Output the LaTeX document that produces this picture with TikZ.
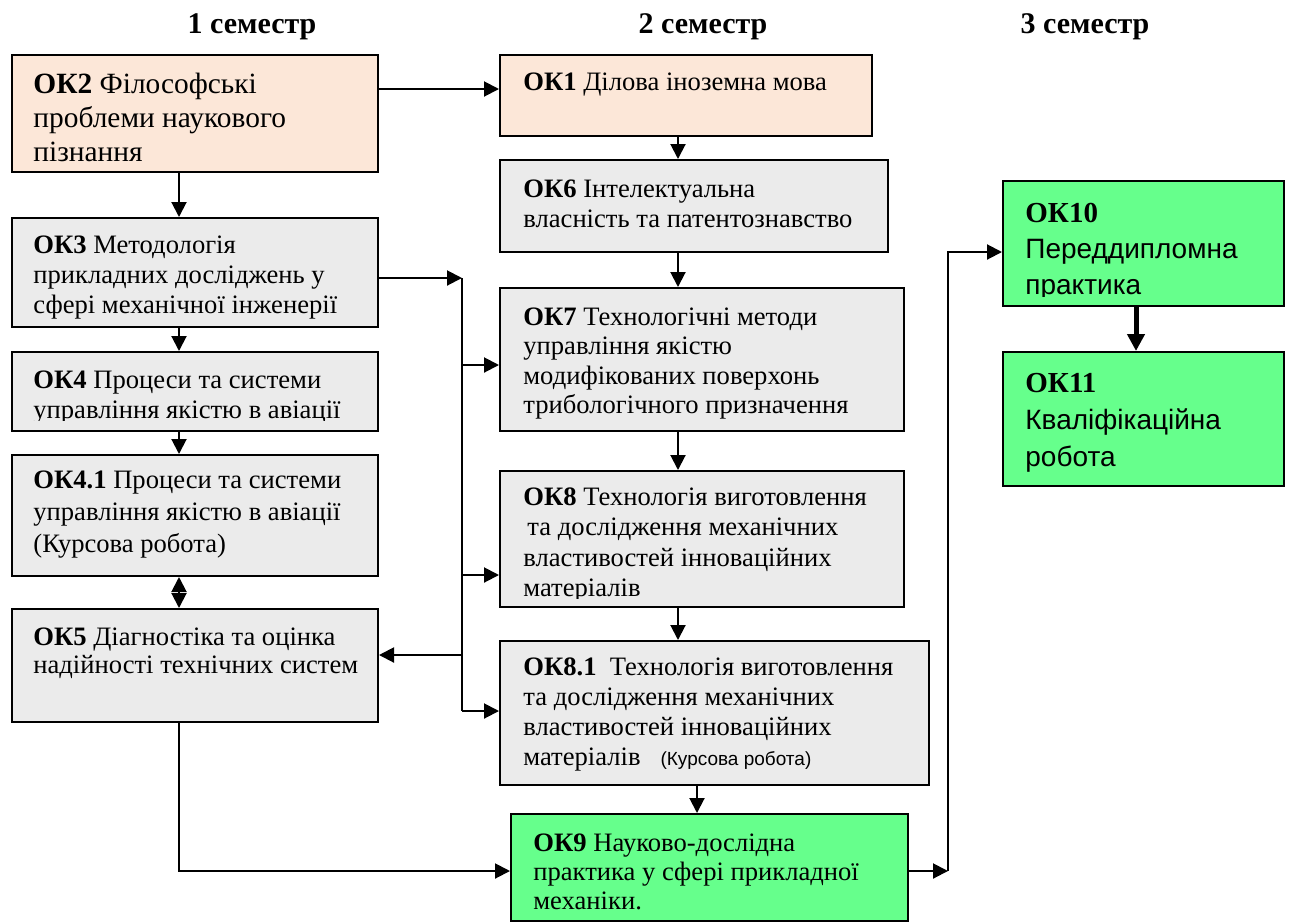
\documentclass[tikz,border=0pt]{standalone}
\usepackage{fontspec}
\setmainfont{Liberation Serif}
\newfontfamily\arialf{Liberation Sans}
\usetikzlibrary{arrows.meta}
\definecolor{peach}{RGB}{252,231,216}
\definecolor{lgray}{RGB}{235,235,235}
\definecolor{lgreen}{RGB}{102,255,140}
\begin{document}
\begin{tikzpicture}[x=0.5pt,y=-0.5pt,
  box/.style={draw=black, line width=1pt, inner sep=0pt, rectangle},
  tx/.style={anchor=north west, inner sep=0pt, align=left},
  hd/.style={anchor=base, font=\fontsize{15}{18}\selectfont\bfseries},
  arr/.style={line width=1pt, -{Triangle[length=7.5pt,width=7.5pt]}},
  darr/.style={line width=1pt, {Triangle[length=7.5pt,width=7.5pt]}-{Triangle[length=7.5pt,width=7.5pt]}},
  tarr/.style={line width=2.5pt, -{Triangle[length=8.5pt,width=8.5pt]}},
  ln/.style={line width=1pt}]
\useasboundingbox (0,0) rectangle (1290,922);

% headers
\node[hd] (h1) at (252,33) {1 семестр};
\node[hd] (h2) at (703,33) {2 семестр};
\node[hd] (h3) at (1085,33) {3 семестр};

% boxes
\node[box, fill=peach, minimum width=183pt, minimum height=58.5pt] (ok2) at (195,113.5) {};
\node[box, fill=peach, minimum width=186pt, minimum height=40.5pt] (ok1) at (686,95.5) {};
\node[box, fill=lgray, minimum width=194pt, minimum height=46pt] (ok6) at (694,206) {};
\node[box, fill=lgray, minimum width=202pt, minimum height=71.5pt] (ok7) at (702,359.5) {};
\node[box, fill=lgray, minimum width=202pt, minimum height=68pt] (ok8) at (702,539) {};
\node[box, fill=lgray, minimum width=214.5pt, minimum height=72pt] (ok81) at (714.5,713) {};
\node[box, fill=lgreen, minimum width=198.5pt, minimum height=53.5pt] (ok9) at (709.5,867.5) {};
\node[box, fill=lgray, minimum width=183pt, minimum height=54.5pt] (ok3) at (195,272.5) {};
\node[box, fill=lgray, minimum width=183pt, minimum height=39.5pt] (ok4) at (195,391.5) {};
\node[box, fill=lgray, minimum width=183pt, minimum height=60.5pt] (ok41) at (195,515.5) {};
\node[box, fill=lgray, minimum width=183pt, minimum height=56.5pt] (ok5) at (195,665.5) {};
\node[box, fill=lgreen, minimum width=140.5pt, minimum height=62.5pt] (ok10) at (1143.5,243.5) {};
\node[box, fill=lgreen, minimum width=140.5pt, minimum height=67pt] (ok11) at (1143.5,419) {};

% texts
\node[tx, font=\fontsize{14.7}{17}\selectfont] (t2) at (33,69.2) {\strut\textbf{ОК2} Філософські\\проблеми наукового\\пізнання};
\node[tx, font=\fontsize{13.3}{15}\selectfont] (t1) at (523,69) {\strut\textbf{ОК1} Ділова іноземна мова};
\node[tx, font=\fontsize{13.3}{15}\selectfont] (t6) at (523,176) {\strut\textbf{ОК6} Інтелектуальна\\власність та патентознавство};
\node[tx, font=\fontsize{13.3}{14.75}\selectfont] (t7) at (523,304.3) {\strut\textbf{ОК7} Технологічні методи\\управління якістю\\модифікованих поверхонь\\трибологічного призначення};
\begin{scope}
\clip (0,0) rectangle (1290,598);
\node[tx, font=\fontsize{13.3}{15.25}\selectfont] (t8) at (523,483.6) {\strut\textbf{ОК8} Технологія виготовлення\\\hspace{2pt}та дослідження механічних\\властивостей інноваційних\\матеріалів};
\end{scope}
\node[tx, font=\fontsize{13.3}{15}\selectfont] (t81) at (523,654) {\strut\textbf{ОК8.1}\ \ Технологія виготовлення\\та дослідження механічних\\властивостей інноваційних\\матеріалів\hspace{10pt}{\arialf\fontsize{9.5}{10}\selectfont (Курсова робота)}};
\node[tx, font=\fontsize{13.3}{14.5}\selectfont] (t9) at (533,830.7) {\strut\textbf{ОК9} Науково-дослідна\\практика у сфері прикладної\\механіки.};
\node[tx, font=\fontsize{13.3}{15}\selectfont] (t3) at (33,232) {\strut\textbf{ОК3} Методологія\\прикладних досліджень у\\сфері механічної інженерії};
\begin{scope}
\clip (0,0) rectangle (1290,420);
\node[tx, font=\fontsize{13.3}{15}\selectfont] (t4) at (33,367) {\strut\textbf{ОК4} Процеси та системи\\управління якістю в авіації};
\end{scope}
\node[tx, font=\fontsize{13.3}{16}\selectfont] (t41) at (33,465.6) {\strut\textbf{ОК4.1} Процеси та системи\\управління якістю в авіації\\(Курсова робота)};
\node[tx, font=\fontsize{13.3}{14}\selectfont] (t5) at (33,625.4) {\strut\textbf{ОК5} Діагностіка та оцінка\\надійності технічних систем};
\begin{scope}
\clip (0,0) rectangle (1290,296);
\node[tx, font=\fontsize{14.5}{18}\selectfont] (t10) at (1025,196.8) {\strut\textbf{ОК10}\\{\arialf\fontsize{14}{18}\selectfont Переддипломна}\\{\arialf\fontsize{14}{18}\selectfont практика}};
\end{scope}
\node[tx, font=\fontsize{14.5}{18.5}\selectfont] (t11) at (1025,366) {\strut\textbf{ОК11}\\{\arialf\fontsize{14}{18.5}\selectfont Кваліфікаційна}\\{\arialf\fontsize{14}{18.5}\selectfont робота}};

% helper coordinates
\coordinate (p1) at (0,89);
\coordinate (cL) at (179,0);
\coordinate (cM) at (678,0);
\coordinate (cM2) at (697,0);
\coordinate (cR) at (1136,0);
\coordinate (jtop) at (462,278);
\coordinate (jbot) at (462,711);
\coordinate (j7) at (462,365);
\coordinate (j8) at (462,575);
\coordinate (j5) at (462,655);
\coordinate (bend) at (179,871);
\coordinate (r1) at (948,871);
\coordinate (r2) at (948,252);

% connectors
\draw[arr] (ok2.east |- p1) -- (ok1.west |- p1);
\draw[arr] (ok2.south -| cL) -- (ok3.north -| cL);
\draw[arr] (ok3.south -| cL) -- (ok4.north -| cL);
\draw[arr] (ok4.south -| cL) -- (ok41.north -| cL);
\draw[darr] (ok41.south -| cL) -- (ok5.north -| cL);
\draw[arr] (ok1.south -| cM) -- (ok6.north -| cM);
\draw[arr] (ok6.south -| cM) -- (ok7.north -| cM);
\draw[arr] (ok7.south -| cM) -- (ok8.north -| cM);
\draw[arr] (ok8.south -| cM) -- (ok81.north -| cM);
\draw[arr] (ok81.south -| cM2) -- (ok9.north -| cM2);
\draw[arr] (ok3.east |- jtop) -- (jtop);
\draw[ln] (jtop) -- (jbot);
\draw[arr] (jbot) -- (ok81.west |- jbot);
\draw[arr] (j7) -- (ok7.west |- j7);
\draw[arr] (j8) -- (ok8.west |- j8);
\draw[arr] (j5) -- (ok5.east |- j5);
\draw[arr] (ok5.south -| bend) -- (bend) -- (ok9.west |- bend);
\draw[arr] (ok9.east |- r1) -- (r1);
\draw[arr] (r1) -- (r2) -- (ok10.west |- r2);
\draw[tarr] (ok10.south -| cR) -- (ok11.north -| cR);
\end{tikzpicture}
\end{document}
